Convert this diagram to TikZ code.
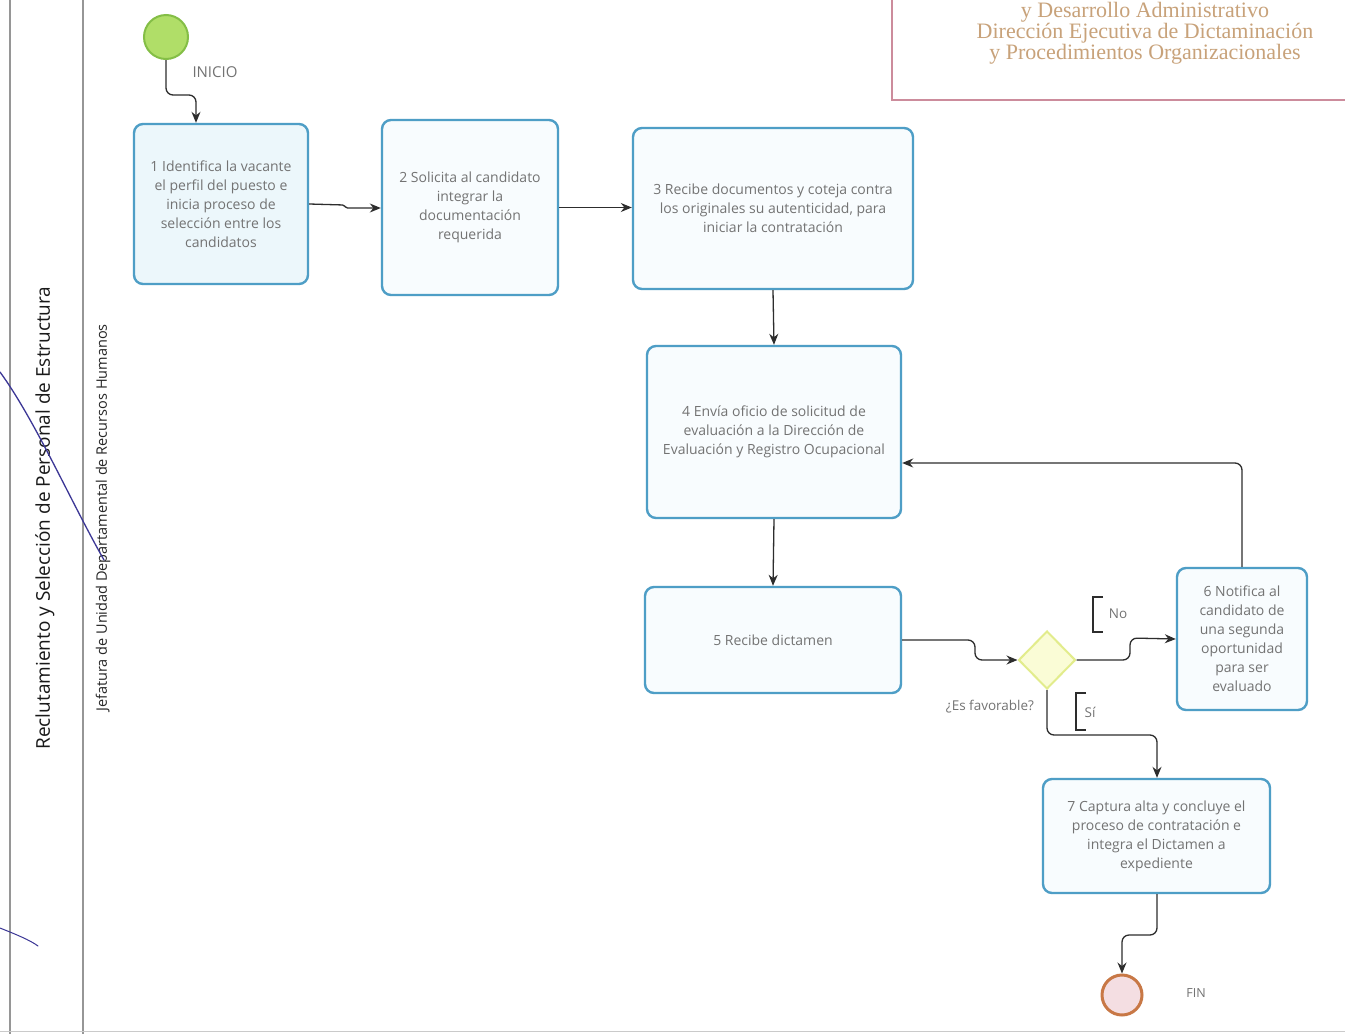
\documentclass[tikz,border=0pt]{standalone}
\usepackage{fontspec}
\setmainfont{Open Sans}
\newfontfamily\hdrfont{Liberation Serif}
\usetikzlibrary{arrows.meta,shapes.geometric}

\definecolor{taskborder}{RGB}{78,158,198}
\definecolor{taskfill}{RGB}{236,247,251}
\definecolor{taskfillb}{RGB}{248,252,254}
\definecolor{flow}{RGB}{45,45,45}
\definecolor{tasktext}{RGB}{115,115,115}
\definecolor{startfill}{RGB}{176,222,104}
\definecolor{startline}{RGB}{132,190,70}
\definecolor{endline}{RGB}{200,120,70}
\definecolor{endfill}{RGB}{244,222,226}
\definecolor{gwfill}{RGB}{250,252,214}
\definecolor{gwline}{RGB}{226,236,140}
\definecolor{hdrline}{RGB}{204,140,156}
\definecolor{hdrtext}{RGB}{200,162,122}
\definecolor{lane}{RGB}{150,150,150}
\definecolor{pen}{RGB}{60,55,150}

\tikzset{
  taskbox/.style={draw=taskborder, line width=2.4pt, rounded corners=9pt,
    fill=taskfillb, align=center, text=tasktext, inner sep=0pt,
    font=\fontsize{14}{19}\selectfont},
  flowline/.style={draw=flow, line width=1.3pt, rounded corners=7pt,
    -{Stealth[length=11pt,width=9pt]}},
  lbl/.style={text=tasktext, font=\fontsize{13.5}{15}\selectfont},
  bracket/.style={draw=flow, line width=1.1pt},
}

\begin{document}
\begin{tikzpicture}[x=1pt,y=-1pt]
\useasboundingbox (0,0) rectangle (1345,1034);
\fill[white] (0,0) rectangle (1345,1034);

% swimlane borders
\draw[lane, line width=1.8pt] (10,0) -- (10,1034);
\draw[lane, line width=2.6pt] (83,0) -- (83,1034);
\draw[lane!50, line width=1pt] (0,1031) -- (1345,1031);

% lane titles
\node[rotate=90, text=black!90, font=\fontsize{19}{21}\selectfont] (lanemain) at (45,518)
  {Reclutamiento y Selección de Personal de Estructura};
\node[rotate=90, text=black!85, font=\fontsize{14.5}{16}\selectfont] (lanesub) at (103,518)
  {Jefatura de Unidad Departamental de Recursos Humanos};

% letterhead box
\draw[hdrline, line width=1.4pt] (892,-5) -- (892,100) -- (1350,100);
\node[align=center, text=hdrtext, font=\hdrfont\fontsize{22}{21}\selectfont] (hdr) at (1145,33)
  {y Desarrollo Administrativo\\Dirección Ejecutiva de Dictaminación\\y Procedimientos Organizacionales};

% events
\node[circle, draw=startline, fill=startfill, line width=2pt, minimum size=44pt, inner sep=0pt] (start) at (166,37) {};
\node[lbl, font=\fontsize{15}{16}\selectfont] (inicio) at (215,72) {INICIO};
\node[circle, draw=endline, fill=endfill, line width=3pt, minimum size=40pt, inner sep=0pt] (fin) at (1122,995) {};
\node[lbl, font=\fontsize{12.5}{14}\selectfont] (finlbl) at (1196,993) {FIN};

% tasks
\node[taskbox, fill=taskfill, minimum width=174pt, minimum height=160pt] (t1) at (221,204)
  {1 Identifica la vacante\\el perfil del puesto e\\inicia proceso de\\selección entre los\\candidatos};
\node[taskbox, minimum width=176pt, minimum height=175pt] (t2) at (470,207.5)
  {2 Solicita al candidato\\integrar la\\documentación\\requerida};
\node[taskbox, minimum width=280pt, minimum height=161pt] (t3) at (773,208.5)
  {3 Recibe documentos y coteja contra\\los originales su autenticidad, para\\iniciar la contratación};
\node[taskbox, minimum width=254pt, minimum height=172pt] (t4) at (774,432)
  {4 Envía oficio de solicitud de\\evaluación a la Dirección de\\Evaluación y Registro Ocupacional};
\node[taskbox, minimum width=256pt, minimum height=106pt] (t5) at (773,640)
  {5 Recibe dictamen};
\node[taskbox, minimum width=130pt, minimum height=142pt] (t6) at (1242,639)
  {6 Notifica al\\candidato de\\una segunda\\oportunidad\\para ser\\evaluado};
\node[taskbox, minimum width=227pt, minimum height=114pt] (t7) at (1156.5,836)
  {7 Captura alta y concluye el\\proceso de contratación e\\integra el Dictamen a\\expediente};

% gateway
\node[diamond, draw=gwline, fill=gwfill, line width=2pt, minimum width=57pt, minimum height=58pt, inner sep=0pt] (gw) at (1047,660) {};
\node[lbl] (gwq) at (990,707) {¿Es favorable?};
\node[lbl] (gwno) at (1118,614) {No};
\node[lbl] (gwsi) at (1090,712) {Sí};
\draw[bracket] (1103,597) -- (1093,597) -- (1093,632) -- (1103,632);
\draw[bracket] (1086,693) -- (1076,693) -- (1076,730) -- (1086,730);

% sequence flows
\draw[flowline] (start.south) -- (166,95) -- (196,95) -- (196,0 |- t1.north);
\draw[flowline, rounded corners=1.5pt] (t1.east) -- (344,205) -- (346,208) -- (t2.west |- 0,208);
\draw[flowline] (t2.east) -- (t3.west |- t2.east);
\draw[flowline] (t3.south) -- (t4.north);
\draw[flowline] (t4.south) -- (t5.north);
\draw[flowline] (t5.east) -- (975,640) -- (975,660) -- (gw.west);
\draw[flowline] (gw.east) -- (1130,660) -- (1130,638) -- (t6.west);
\draw[flowline] (gw.south) -- (1047,735) -- (1157,735) -- (1157,0 |- t7.north);
\draw[flowline] (t6.north) -- (1242,463) -- (t4.east |- 0,463);
\draw[flowline] (1157,0 |- t7.south) -- (1157,935) -- (1122,935) -- (fin.north);

% pen marks across the lane titles
\draw[pen, line width=1.3pt, line cap=round] (0,372) .. controls (35,420) and (70,500) .. (104,560);
\draw[pen, line width=1pt, line cap=round] (0,928) .. controls (15,934) and (30,940) .. (38,946);
\end{tikzpicture}
\end{document}
